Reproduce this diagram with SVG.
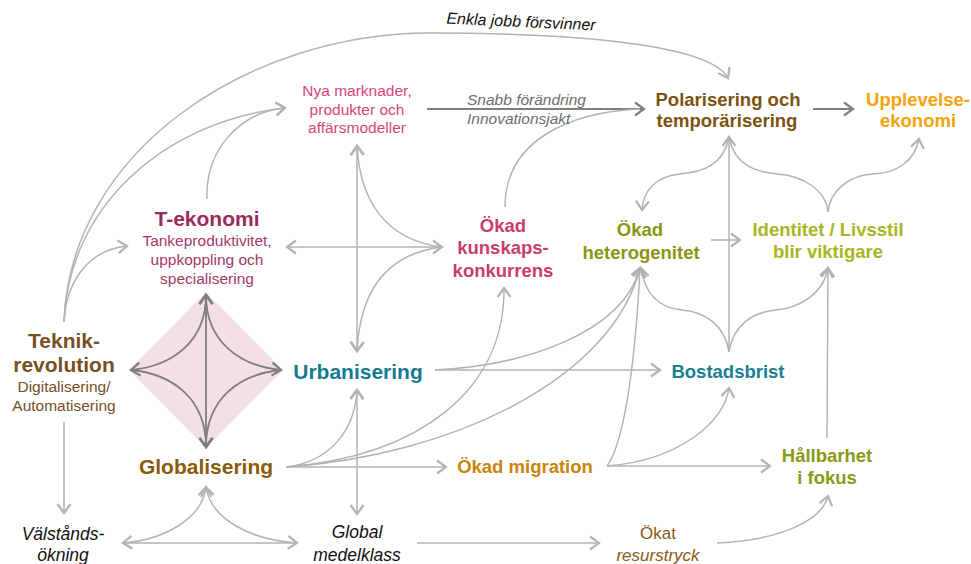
<svg xmlns="http://www.w3.org/2000/svg" width="971" height="564" viewBox="0 0 971 564">
  <style>
    text { font-family: "Liberation Sans", Arial, sans-serif; text-anchor: middle; }
    .b { font-weight: bold; }
    .i { font-style: italic; }
    .big { font-size: 21px; font-weight: bold; }
    .mid { font-size: 18.5px; font-weight: bold; }
    .sub { font-size: 15.5px; }
    .lnk { fill: none; stroke: #b3b3b3; stroke-width: 1.5; }
    .ga { marker-end: url(#ah); }
    .gs { marker-start: url(#ah); }
    .dk { fill: none; stroke: #7f7f7f; stroke-width: 1.8; }
    .da { marker-end: url(#ahd); }
    .ds { marker-start: url(#ahd); }
  </style>
  <defs>
    <marker id="ah" markerUnits="userSpaceOnUse" markerWidth="20" markerHeight="20" refX="0" refY="0" viewBox="-12 -10 14 20" orient="auto-start-reverse">
      <path d="M-9,-6.5 L0,0 L-9,6.5" fill="none" stroke="#b3b3b3" stroke-width="2.2"/>
    </marker>
    <marker id="ahd" markerUnits="userSpaceOnUse" markerWidth="20" markerHeight="20" refX="0" refY="0" viewBox="-12 -10 14 20" orient="auto-start-reverse">
      <path d="M-9,-6.5 L0,0 L-9,6.5" fill="none" stroke="#7f7f7f" stroke-width="2.2"/>
    </marker>
  </defs>

  <rect width="971" height="564" fill="#ffffff"/>

  <!-- core square behind the four drivers -->
  <polygon id="core" points="206,292 283,370 206,448 129,370" fill="#f3dfe6"/>

  <g id="connectors">
    <!-- Teknikrevolution outgoing -->
    <path class="lnk ga" d="M64,322 C 70,150 250,33 430,33 C 600,33 712,48 728,78"/>
    <path class="lnk ga" d="M64,322 C 68,210 160,122 285,108"/>
    <path class="lnk ga" d="M64,322 C 66,282 88,250 127,246"/>
    <path class="lnk ga" d="M64,422 L64,513"/>
    <!-- T-ekonomi to Nya marknader -->
    <path class="lnk ga" d="M207,199 C 205,150 240,112 285,108"/>
    <!-- Nya marknader to Polarisering -->
    <path class="dk da" d="M427,109 L644,109"/>
    <!-- Kunskapskonkurrens to Polarisering -->
    <path class="lnk" d="M505,207 C 505,140 570,112 640,109"/>
    <!-- Polarisering to Upplevelseekonomi -->
    <path class="dk da" d="M813,109 L853,109"/>

    <!-- star around Nya marknader / Urbanisering / kunskap / T-ekonomi -->
    <path class="lnk ga gs" d="M357,146 L357,351"/>
    <path class="lnk ga gs" d="M287,247 L442,247"/>
    <path class="lnk gs" d="M357,146 C 360,200 385,240 442,247"/>
    <path class="lnk gs" d="M357,351 C 360,292 385,254 442,247"/>

    <!-- Urbanisering / Global medelklass -->
    <path class="lnk ga gs" d="M357,390 L357,514"/>
    <path class="lnk ga" d="M435,370 L660,370"/>
    <path class="lnk ga" d="M435,370 C 520,366 622,335 640,268"/>

    <!-- Globalisering outgoing -->
    <path class="lnk ga" d="M286,467 C 330,462 355,430 357,390"/>
    <path class="lnk ga" d="M286,467 C 420,456 505,390 504,288"/>
    <path class="lnk ga" d="M286,467 C 450,456 612,380 640,268"/>
    <path class="lnk ga" d="M286,467 L446,467"/>

    <!-- Globalisering / Välståndsökning / Global medelklass -->
    <path class="lnk gs ga" d="M123,543 C 162,540 202,520 206,487"/>
    <path class="lnk gs ga" d="M297,543 C 252,540 211,520 206,487"/>
    <path class="lnk" d="M123,543 L297,543"/>

    <!-- Ökad migration outgoing -->
    <path class="lnk ga" d="M607,466 C 626,440 636,350 640,268"/>
    <path class="lnk ga" d="M607,466 C 682,460 725,420 729,388"/>
    <path class="lnk ga" d="M607,466 L770,466"/>

    <!-- Global medelklass to Ökat resurstryck to Hållbarhet -->
    <path class="lnk ga" d="M417,543 L599,543"/>
    <path class="lnk ga" d="M717,543 C 782,540 822,520 828,496"/>

    <!-- Hållbarhet to Identitet -->
    <path class="lnk ga" d="M827,438 L828,268"/>

    <!-- Bostadsbrist up to Polarisering, lower brace -->
    <path class="lnk ga" d="M729,352 L729,137"/>
    <path class="lnk ga" d="M729,352 C 725,325 705,312 682,310 C 660,308 645,295 641,268"/>
    <path class="lnk ga" d="M729,352 C 733,325 753,312 776,310 C 798,308 823,295 828,268"/>

    <!-- upper brace from Polarisering -->
    <path class="lnk ga" d="M729,138 C 723,165 703,172 680,174 C 657,176 643,190 642,210"/>
    <path class="lnk" d="M729,138 C 735,165 755,172 778,174 C 803,176 826,190 828,212"/>
    <path class="lnk ga" d="M828,212 C 830,190 850,175 873,174 C 898,173 915,160 919,139"/>

    <!-- heterogenitet to Identitet -->
    <path class="lnk ga" d="M711,240 L740,240"/>

    <!-- arrows inside the core square -->
    <path class="dk da ds" d="M206,295 L206,447"/>
    <path class="dk da ds" d="M206,295 C 206,342 172,366 131,370"/>
    <path class="dk da ds" d="M206,295 C 206,342 240,366 281,370"/>
    <path class="dk ds" d="M206,447 C 206,398 172,374 131,370"/>
    <path class="dk ds" d="M206,447 C 206,398 240,374 281,370"/>
  </g>

  <text class="i" font-size="16" x="521" y="27" transform="rotate(2.6 521 22)" fill="#111111">Enkla jobb försvinner</text>

  <g id="nya-marknader" fill="#d6457c" font-size="15.5">
    <text x="357" y="96">Nya marknader,</text>
    <text x="357" y="115">produkter och</text>
    <text x="357" y="133">affärsmodeller</text>
  </g>

  <g id="forandring" class="i" fill="#6e6e6e" font-size="15.5">
    <text x="467" y="105" style="text-anchor:start">Snabb förändring</text>
    <text x="467" y="124" style="text-anchor:start">Innovationsjakt</text>
  </g>

  <g id="polarisering" class="mid" fill="#7d5110">
    <text x="728" y="106">Polarisering och</text>
    <text x="727" y="127">temporärisering</text>
  </g>

  <g id="upplevelseekonomi" class="mid" fill="#f5a30a">
    <text x="918" y="106">Upplevelse-</text>
    <text x="918" y="127">ekonomi</text>
  </g>

  <g id="t-ekonomi">
    <text class="big" x="207" y="226" fill="#9c2a5a">T-ekonomi</text>
    <g class="sub" fill="#a5386a">
      <text x="207" y="246">Tankeproduktivitet,</text>
      <text x="207" y="265">uppkoppling och</text>
      <text x="207" y="284">specialisering</text>
    </g>
  </g>

  <g id="kunskapskonkurrens" class="mid" fill="#c83c6e">
    <text x="503" y="232">Ökad</text>
    <text x="503" y="254">kunskaps-</text>
    <text x="503" y="277">konkurrens</text>
  </g>

  <g id="heterogenitet" class="mid" fill="#8a9511">
    <text x="640" y="236">Ökad</text>
    <text x="641" y="259">heterogenitet</text>
  </g>

  <g id="identitet" class="mid" fill="#a7b61c">
    <text x="828" y="236">Identitet / Livsstil</text>
    <text x="828" y="258">blir viktigare</text>
  </g>

  <g id="teknikrevolution" fill="#76501f">
    <text class="big" x="64" y="348">Teknik-</text>
    <text class="big" x="64" y="372">revolution</text>
    <text class="sub" x="64" y="392">Digitalisering/</text>
    <text class="sub" x="64" y="411">Automatisering</text>
  </g>

  <g id="urbanisering">
    <text class="big" x="358" y="379" fill="#17798f">Urbanisering</text>
  </g>

  <g id="bostadsbrist">
    <text class="mid" x="728" y="378" fill="#1a7e93">Bostadsbrist</text>
  </g>

  <g id="globalisering">
    <text class="big" x="206" y="474" fill="#8a5a0c">Globalisering</text>
  </g>

  <g id="migration">
    <text class="mid" x="525" y="473" fill="#c8840c">Ökad migration</text>
  </g>

  <g id="hallbarhet" class="mid" fill="#8a9a14">
    <text x="827" y="462">Hållbarhet</text>
    <text x="827" y="484">i fokus</text>
  </g>

  <g id="valstandsokning" class="i" font-size="17.5" fill="#111111">
    <text x="63" y="540">Välstånds-</text>
    <text x="63" y="561">ökning</text>
  </g>

  <g id="global-medelklass" class="i" font-size="17.5" fill="#111111">
    <text x="357" y="538">Global</text>
    <text x="357" y="561">medelklass</text>
  </g>

  <g id="resurstryck" fill="#8a5a14" font-size="17">
    <text x="658" y="539">Ökat</text>
    <text class="i" x="658" y="561">resurstryck</text>
  </g>
</svg>
